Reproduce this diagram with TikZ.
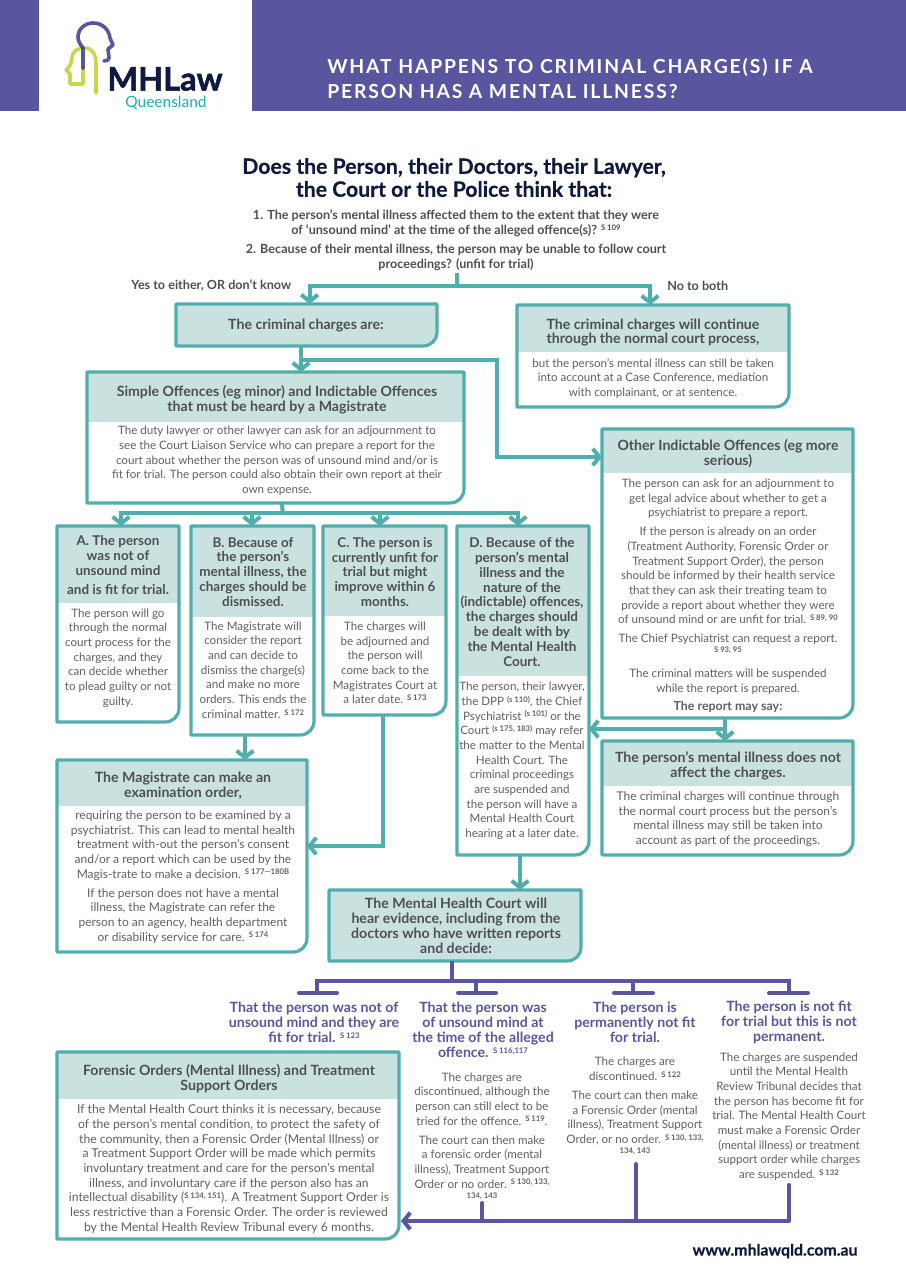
\documentclass[tikz,border=0pt]{standalone}
\usepackage{fontspec}
\setmainfont{Lato}
\usetikzlibrary{arrows.meta,calc}
\definecolor{teal1}{HTML}{52ADAD}
\definecolor{hdrfill}{HTML}{C9E1DF}
\definecolor{purp}{HTML}{5A559F}
\definecolor{navy}{HTML}{10193F}
\definecolor{greyB}{HTML}{5F6062}
\definecolor{greyH}{HTML}{4D4F53}
\definecolor{lime}{HTML}{C9D64A}
\definecolor{tealQ}{HTML}{1AB2A4}
\newcommand{\sref}[1]{\raisebox{.55ex}{\fontsize{5.8}{6}\selectfont\bfseries #1}}
\tikzset{
  txtbody/.style={inner sep=0pt,align=center,text=greyB,font=\fontsize{8.7}{11}\selectfont},
  txtbodyw/.style={inner sep=0pt,align=center,text=greyB,font=\fontsize{9}{11}\selectfont},
  txtbodyf/.style={inner sep=0pt,align=center,text=greyB,font=\fontsize{9.15}{11}\selectfont},
  txthead/.style={inner sep=0pt,yshift=-0.75pt,align=center,text=greyH,font=\fontsize{10.6}{11.2}\selectfont\bfseries},
  txtheadn/.style={inner sep=0pt,align=center,text=greyH,font=\fontsize{10.1}{11.2}\selectfont\bfseries},
  txtpurple/.style={inner sep=0pt,align=center,text=purp,font=\fontsize{10.6}{11.2}\selectfont\bfseries},
  txtask/.style={inner sep=0pt,align=center,text=greyH,font=\fontsize{9.45}{11}\selectfont\bfseries},
  frameline/.style={draw=teal1,line width=2.4pt,line join=round},
  tline/.style={draw=teal1,line width=3pt},
  tarrow/.style={tline,-{Straight Barb[length=5pt,width=12.5pt]}},
  pline/.style={draw=purp,line width=3pt},
  parrow/.style={pline,-{Straight Barb[length=5pt,width=12.5pt]}},
  tbar/.style={draw=purp,line width=3pt,line cap=round},
  logo/.style={line width=2.7pt,line cap=round,line join=round},
}
% rounded bottom right corner box outline
\newcommand{\boxpath}[1]{(#1.north west) -- (#1.north east) -- ([shift={(0,-14)}]#1.south east) .. controls ([shift={(0,-6)}]#1.south east) and ([shift={(-6,0)}]#1.south east) .. ([shift={(-14,0)}]#1.south east) -- (#1.south west) -- cycle}
\newcommand{\flowbox}[6]{% name x1 y1 x2 y2 headerbottom
  \pgfmathsetmacro\bw{(#4-#2)*0.75}\pgfmathsetmacro\bh{(#5-#3)*0.75}
  \node[inner sep=0pt,outer sep=0pt,minimum width=\bw pt,minimum height=\bh pt] (#1) at ({(#2+#4)/2},{(#3+#5)/2}) {};
  \fill[white] \boxpath{#1};
  \fill[hdrfill] (#2,#3) rectangle (#4,#6);
  \draw[frameline] \boxpath{#1};
}
\newcommand{\headbox}[5]{% name x1 y1 x2 y2
  \pgfmathsetmacro\bw{(#4-#2)*0.75}\pgfmathsetmacro\bh{(#5-#3)*0.75}
  \node[inner sep=0pt,outer sep=0pt,minimum width=\bw pt,minimum height=\bh pt] (#1) at ({(#2+#4)/2},{(#3+#5)/2}) {};
  \draw[frameline,fill=hdrfill] \boxpath{#1};
}
\begin{document}
\begin{tikzpicture}[x=0.75pt,y=-0.75pt]
\useasboundingbox (0,0) rectangle (906,1282);
\fill[white] (0,0) rectangle (906,1282);
% banner
\fill[purp] (0,0) rectangle (906,111);
\fill[white] (39,0) rectangle (252,111);
\node[anchor=west,inner sep=0pt,text=white,align=left,font=\fontsize{14.5}{18.6}\selectfont\bfseries\addfontfeature{LetterSpace=9.6}] (banner) at (327,78.5) {WHAT HAPPENS TO CRIMINAL CHARGE(S) IF A\\PERSON HAS A MENTAL ILLNESS?};
% logo
\draw[logo,draw=lime] (96,93) -- (96,64) .. controls (96,54) and (92,48) .. (85,48) .. controls (77,48) and (72,52) .. (72,58) .. controls (72,62) and (71,65) .. (66,70) -- (70,74) -- (70,84) -- (83,84) -- (83,68);
\draw[logo,draw=purp] (83,68) -- (83,48) .. controls (80,44) and (78,41) .. (78,37) .. controls (78,29) and (85,23) .. (93,23) .. controls (103,23) and (109,30) .. (110,38) -- (113,45) -- (108,49) -- (109,58) .. controls (109,60) and (107,61) .. (104,61);
\fill[greyH] (83,48) circle (1.8) (83,68) circle (1.8);
\node[inner sep=0pt,text=navy,text height=17.3pt,text depth=0pt,font=\fontsize{24.4}{26}\selectfont\bfseries\addfontfeature{FakeBold=1.5}] (logoA) at (165,79) {MHLaw};
\node[inner sep=0pt,text=tealQ,font=\fontsize{11.6}{13}\selectfont] (logoB) at (166,103) {Queensland};
% question
\node[inner sep=0pt,align=center,text=navy,font=\fontsize{15.9}{17.2}\selectfont\bfseries\addfontfeature{FakeBold=0.4}] (mainq) at (454,177.5) {Does the Person, their Doctors, their Lawyer,\\the Court or the Police think that:};
\node[txtask] (q1) at (456,223) {1. The person’s mental illness affected them to the extent that they were\\of ‘unsound mind’ at the time of the alleged offence(s)? \sref{S 109}};
\node[txtask] (q2) at (456,257.5) {2. Because of their mental illness, the person may be unable to follow court\\proceedings? (unfit for trial)};
\node[txtask,anchor=west] (yes) at (131,286) {Yes to either, OR don’t know};
\node[txtask,anchor=west] (no) at (667,286) {No to both};
% boxes
\headbox{charges}{176}{304}{437}{346}
\node[txthead] (chargesT) at (306,325) {The criminal charges are:};
\flowbox{normal}{517}{305}{789}{407}{352}
\node[txthead] (normalT) at (653,331.5) {The criminal charges will continue\\through the normal court process,};
\node[txtbody] (normalB) at (653,378.5) {but the person’s mental illness can still be taken\\into account at a Case Conference, mediation\\with complainant, or at sentence.};
\flowbox{simple}{87}{372}{464}{503}{422}
\node[txthead] (simpleT) at (277,398.5) {Simple Offences (eg minor) and Indictable Offences\\that must be heard by a Magistrate};
\node[txtbody] (simpleB) at (277,461) {The duty lawyer or other lawyer can ask for an adjournment to\\see the Court Liaison Service who can prepare a report for the\\court about whether the person was of unsound mind and/or is\\fit for trial. The person could also obtain their own report at their\\own expense.};
\flowbox{other}{602}{429}{853}{718}{473}
\node[txthead] (otherT) at (728,452.5) {Other Indictable Offences (eg more\\serious)};
\node[txtbody] (otherB) at (728,596) {The person can ask for an adjournment to\\get legal advice about whether to get a\\psychiatrist to prepare a report.\\[3.2pt]If the person is already on an order\\(Treatment Authority, Forensic Order or\\Treatment Support Order), the person\\should be informed by their health service\\that they can ask their treating team to\\provide a report about whether they were\\of unsound mind or are unfit for trial. \sref{S 89, 90}\\[3.2pt]The Chief Psychiatrist can request a report.\\[-1pt]\sref{S 93, 95}\\[5pt]The criminal matters will be suspended\\while the report is prepared.\\[3.2pt]{\bfseries\fontsize{9.3}{11}\selectfont The report may say:}};
\flowbox{cA}{57}{526}{179}{722}{603}
\node[txtheadn] (cAT) at (118,565) {A. The person\\was not of\\unsound mind\\[3pt]and is fit for trial.};
\node[txtbody] (cAB) at (118,658) {The person will go\\through the normal\\court process for the\\charges, and they\\can decide whether\\to plead guilty or not\\guilty.};
\flowbox{cB}{191}{526}{314}{735}{617}
\node[txtheadn] (cBT) at (253,572) {B. Because of\\the person’s\\mental illness, the\\charges should be\\dismissed.};
\node[txtbody] (cBB) at (253,670) {The Magistrate will\\consider the report\\and can decide to\\dismiss the charge(s)\\and make no more\\orders. This ends the\\criminal matter. \sref{S 172}};
\flowbox{cC}{323}{526}{446}{715}{616}
\node[txtheadn] (cCT) at (385,572) {C. The person is\\currently unfit for\\trial but might\\improve within 6\\months.};
\node[txtbody] (cCB) at (385,663) {The charges will\\be adjourned and\\the person will\\come back to the\\Magistrates Court at\\a later date. \sref{S 173}};
\flowbox{cD}{457}{526}{589}{855}{676}
\node[txtheadn] (cDT) at (522,602) {D. Because of the\\person’s mental\\illness and the\\nature of the\\(indictable) offences,\\the charges should\\be dealt with by\\the Mental Health\\Court.};
\node[txtbody] (cDB) at (522,761) {The person, their lawyer,\\the DPP \sref{(s 110)}, the Chief\\Psychiatrist \sref{(s 101)} or the\\Court \sref{(s 175, 183)} may refer\\the matter to the Mental\\Health Court. The\\criminal proceedings\\are suspended and\\the person will have a\\Mental Health Court\\hearing at a later date.};
\flowbox{noaffect}{602}{741}{853}{855}{786}
\node[txthead] (noaffectT) at (728,764.5) {The person’s mental illness does not\\affect the charges.};
\node[txtbodyw] (noaffectB) at (728,819) {The criminal charges will continue through\\the normal court process but the person’s\\mental illness may still be taken into\\account as part of the proceedings.};
\flowbox{exam}{57}{760}{307}{952}{806}
\node[txthead] (examT) at (183,784.5) {The Magistrate can make an\\examination order,};
\node[txtbodyw] (examB) at (183,877) {requiring the person to be examined by a\\psychiatrist. This can lead to mental health\\treatment with-out the person’s consent\\and/or a report which can be used by the\\Magis-trate to make a decision. \sref{S 177—180B}\\[3.2pt]If the person does not have a mental\\illness, the Magistrate can refer the\\person to an agency, health department\\or disability service for care. \sref{S 174}};
\headbox{mhc}{329}{890}{581}{961}
\node[txthead] (mhcT) at (456,925) {The Mental Health Court will\\hear evidence, including from the\\doctors who have written reports\\and decide:};
% purple outcomes
\node[txtpurple] (o1) at (314,1022) {That the person was not of\\unsound mind and they are\\fit for trial. \sref{S 123}};
\node[txtpurple] (o2) at (483,1030) {That the person was\\of unsound mind at\\the time of the alleged\\offence. \sref{S 116,117}};
\node[txtpurple] (o3) at (635,1022) {The person is\\permanently not fit\\for trial.};
\node[txtpurple] (o4) at (789,1022) {The person is not fit\\for trial but this is not\\permanent.};
\node[txtbody] (b2) at (482,1137) {The charges are\\discontinued, although the\\person can still elect to be\\tried for the offence. \sref{S 119}.\\[3.2pt]The court can then make\\a forensic order (mental\\illness), Treatment Support\\Order or no order. \sref{S 130, 133,}\\[-1pt]\sref{134, 143}};
\node[txtbody] (b3) at (635,1107) {The charges are\\discontinued. \sref{S 122}\\[3.2pt]The court can then make\\a Forensic Order (mental\\illness), Treatment Support\\Order, or no order. \sref{S 130, 133,}\\[-1pt]\sref{134, 143}};
\node[txtbody] (b4) at (789,1116.5) {The charges are suspended\\until the Mental Health\\Review Tribunal decides that\\the person has become fit for\\trial. The Mental Health Court\\must make a Forensic Order\\(mental illness) or treatment\\support order while charges\\are suspended. \sref{S 132}};
\flowbox{forensic}{57}{1052}{399}{1239}{1099}
\node[txthead] (forensicT) at (229,1078) {Forensic Orders (Mental Illness) and Treatment\\Support Orders};
\node[txtbodyf] (forensicB) at (229,1169) {If the Mental Health Court thinks it is necessary, because\\of the person’s mental condition, to protect the safety of\\the community, then a Forensic Order (Mental Illness) or\\a Treatment Support Order will be made which permits\\involuntary treatment and care for the person’s mental\\illness, and involuntary care if the person also has an\\intellectual disability (\sref{S 134, 151}). A Treatment Support Order is\\less restrictive than a Forensic Order. The order is reviewed\\by the Mental Health Review Tribunal every 6 months.};
\node[inner sep=0pt,text=navy,font=\fontsize{11.9}{12}\selectfont\bfseries\addfontfeature{FakeBold=0.4}] (url) at (775,1251) {www.mhlawqld.com.au};
% teal connectors
\coordinate (j1) at (457,286);
\draw[tline] (457,273) -- (j1);
\draw[tarrow] (j1) -| ([shift={(3,0)}]charges.north);
\draw[tarrow] (j1) -| ([shift={(-3,0)}]normal.north);
\draw[tarrow] ([shift={(-5.5,0)}]charges.south) -- ([shift={(25.5,0)}]simple.north);
\coordinate (j2) at (301,360);
\coordinate (j3) at (497,360);
\draw[tarrow] (j2) -- (j3) |- (other.west |- 0,457);
\coordinate (j4) at (283,512.7);
\draw[tline] ([shift={(6,0)}]simple.south) -- (j4);
\draw[tarrow] (j4) -| ([shift={(3,0)}]cA.north);
\draw[tarrow] (j4) -| ([shift={(-0.5,0)}]cB.north);
\draw[tarrow] (j4) -| ([shift={(-4.5,0)}]cC.north);
\draw[tarrow] (j4) -| ([shift={(-5,0)}]cD.north);
\draw[tarrow] ([shift={(-2.5,0)}]other.south) -- ([shift={(-2.5,0)}]noaffect.north);
\coordinate (j5) at (725,729);
\draw[tarrow] (j5) -- (cD.east |- j5);
\draw[tarrow] ([shift={(-7.5,0)}]cB.south) -- ([shift={(63,0)}]exam.north);
\coordinate (j6) at (383,846);
\draw[tarrow] ([shift={(-1.5,0)}]cC.south) -- (j6) -- (exam.east |- j6);
\draw[tarrow] ([shift={(-3,0)}]cD.south) -- ([shift={(65,0)}]mhc.north);
% purple connectors
\coordinate (k1) at (452,981);
\draw[pline] ([shift={(-3,0)}]mhc.south) -- (k1);
\draw[pline] (317,993) |- (k1) -| (789,993);
\draw[pline] (476,981) -- (476,993);
\draw[pline] (633,981) -- (633,993);
\draw[tbar] (299,993) -- (337,993);
\draw[tbar] (458,993) -- (496,993);
\draw[tbar] (614,993) -- (653,993);
\draw[tbar] (769,993) -- (808,993);
\coordinate (k2) at (789,1221);
\draw[pline,line cap=round] (482,1203) -- (482,1221);
\draw[pline,line cap=round] (636,1164) -- (636,1221);
\draw[pline,line cap=round] (789,1185) -- (k2);
\draw[parrow] (k2) -- ([shift={(2,0)}]forensic.east |- k2);
\end{tikzpicture}
\end{document}
